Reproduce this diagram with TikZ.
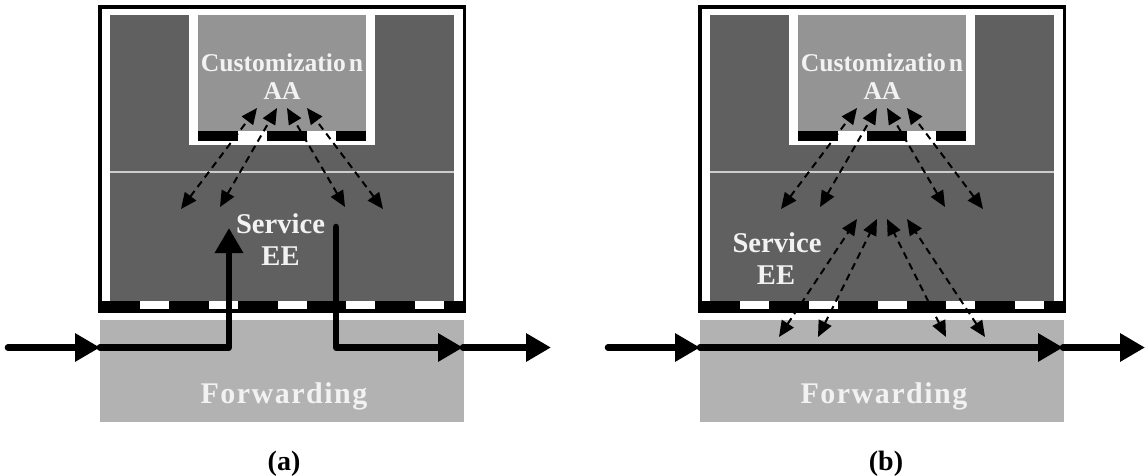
\documentclass[tikz,border=0pt]{standalone}
\usepackage{fontspec}
\setmainfont{Liberation Serif}
\newfontfamily\fwdfont[LetterSpace=5]{Liberation Serif}
\usetikzlibrary{arrows.meta}

\definecolor{eegray}{RGB}{96,96,96}
\definecolor{aagray}{RGB}{148,148,148}
\definecolor{fwgray}{RGB}{178,178,178}
\definecolor{labelwhite}{RGB}{242,242,242}
\definecolor{rulegray}{RGB}{205,205,205}

\tikzset{
  flow/.style={line width=3.3pt, line cap=round, line join=round,
    -{Triangle[length=12.5pt,width=13.5pt]}},
  probe/.style={line width=1pt, dash pattern=on 3.5pt off 2.5pt,
    {Triangle[length=8pt,width=7pt]}-{Triangle[length=8pt,width=7pt]}},
  aalabel/.style={text=labelwhite, inner sep=0, anchor=base,
    font=\bfseries\fontsize{12.8pt}{14pt}\selectfont},
  eelabel/.style={text=labelwhite, inner sep=0, anchor=base,
    font=\bfseries\fontsize{14.3pt}{16pt}\selectfont},
  fwlabel/.style={text=labelwhite, inner sep=0, anchor=base,
    font=\fwdfont\bfseries\fontsize{15pt}{17pt}\selectfont},
  caption/.style={text=black, inner sep=0, anchor=base,
    font=\bfseries\fontsize{14pt}{16pt}\selectfont},
}

% One node: frame, execution environment, customization area and forwarding block
\newcommand\unitframe[1]{%
  \fill[black] (98,5) rectangle (466,313);
  \fill[white] (102,9) rectangle (463,301);
  \fill[eegray] (110,15) rectangle (454,301);
  \fill[white] (189,9) rectangle (375,145);
  \fill[aagray] (198,15) rectangle (366,131);
  \foreach \xa/\xb in {198/238,267/307,336/366}
    \fill[black] (\xa,131) rectangle (\xb,141);
  \draw[rulegray, line width=0.6pt] (110,172) -- (454,172);
  \foreach \xa in {140,209,278,346,415}
    \fill[white] (\xa,301) rectangle ({\xa+29},309);
  \fill[fwgray] (100,320) rectangle (464,422);
  \node[aalabel] (#1cust) at (282,72) {Customizatio\kern1.5pt n};
  \node[aalabel] (#1aa) at (282,100) {AA};
  \node[fwlabel] (#1fwd) at (284,403) {Forwarding};
  % ports between the customization area and the execution environment
  \coordinate (#1u1) at (257,108); \coordinate (#1l1) at (181,209);
  \coordinate (#1u2) at (277,108); \coordinate (#1l2) at (220,207);
  \coordinate (#1u3) at (287,108); \coordinate (#1l3) at (345,207);
  \coordinate (#1u4) at (307,108); \coordinate (#1l4) at (383,209);
  \foreach \k in {1,2,3,4}
    \draw[probe] (#1l\k) -- (#1u\k);
  % line of the packet stream
  \coordinate (#1in) at (100,347.5);
  \coordinate (#1out) at (463,347.5);
}

\begin{document}
\begin{tikzpicture}[x=0.5pt,y=-0.5pt]
\useasboundingbox (0,0) rectangle (1145,476);

% ---------- (a): packets pass through the service EE ----------
\unitframe{a}
\node[eelabel] (aserv) at (280.5,233) {Service};
\node[eelabel] (aee) at (280.5,265) {EE};
\coordinate (asrc) at (8,347.5);
\coordinate (aup) at (229,228);
\coordinate (adown) at (336,227);
\coordinate (asink) at (551,347.5);
\draw[flow] (asrc) -- (ain);
\draw[flow] (ain) -| (aup);
\draw[flow] (adown) |- (aout);
\draw[flow] (aout) -- (asink);
\node[caption] (acap) at (284,470) {(a)};

% ---------- (b): packets stay on the forwarding path ----------
\begin{scope}[shift={(600,0)}]
\unitframe{b}
\node[eelabel] (bserv) at (177,252) {Service};
\node[eelabel] (bee) at (176,284) {EE};
\coordinate (bsrc) at (8,347.5);
\coordinate (bsink) at (545,347.5);
\draw[flow] (bsrc) -- (bin);
\draw[flow] (bin) -- (bout);
\draw[flow] (bout) -- (bsink);
% ports between the execution environment and forwarding
\coordinate (bp1) at (257,219); \coordinate (bq1) at (179,337);
\coordinate (bp2) at (277,219); \coordinate (bq2) at (218,337);
\coordinate (bp3) at (287,219); \coordinate (bq3) at (346,337);
\coordinate (bp4) at (307,219); \coordinate (bq4) at (385,337);
\foreach \k in {1,2,3,4}
  \draw[probe] (bq\k) -- (bp\k);
\node[caption] (bcap) at (286,470) {(b)};
\end{scope}
\end{tikzpicture}
\end{document}
